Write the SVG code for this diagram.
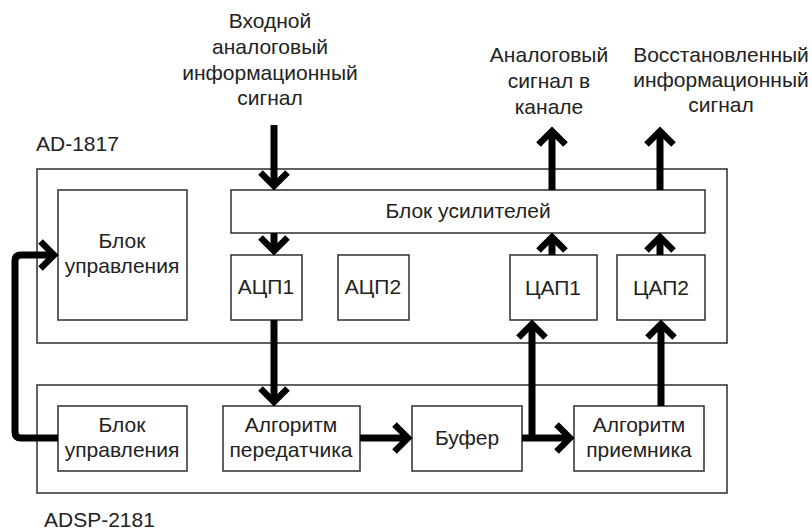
<svg xmlns="http://www.w3.org/2000/svg" xmlns:xlink="http://www.w3.org/1999/xlink" width="812" height="532" viewBox="0 0 812 532">
<style>
.box{fill:#fff;stroke:#3a3a3a;stroke-width:1.6}
.frame{fill:none;stroke:#3a3a3a;stroke-width:1.6}
.t{font-family:"Liberation Sans",Arial,sans-serif;font-size:21px;fill:#222;text-anchor:middle}
.tl{font-family:"Liberation Sans",Arial,sans-serif;font-size:21px;fill:#222}
.sh{fill:none;stroke:#000;stroke-width:7}
.ch{fill:none;stroke:#000;stroke-width:6.5;stroke-linejoin:miter;stroke-miterlimit:4}
</style>
<defs>
<path id="chev" class="ch" d="M-13.5,-13.5 L0,0 L13.5,-13.5"/>
</defs>
<rect width="812" height="532" fill="#fff"/>

<g id="ad1817">
<rect class="frame" x="37" y="169" width="690" height="174"/>
<text class="tl" x="36" y="151">AD-1817</text>
</g>
<g id="adsp2181">
<rect class="frame" x="37" y="385" width="690" height="108"/>
<text class="tl" x="44" y="527">ADSP-2181</text>
</g>

<g id="input-label">
<text class="t" x="270" y="28">Входной</text>
<text class="t" x="270" y="54">аналоговый</text>
<text class="t" x="270" y="80">информационный</text>
<text class="t" x="270" y="105">сигнал</text>
</g>
<g id="out1-label">
<text class="t" x="549" y="62">Аналоговый</text>
<text class="t" x="549" y="88">сигнал в</text>
<text class="t" x="549" y="114">канале</text>
</g>
<g id="out2-label">
<text class="t" x="721" y="62">Восстановленный</text>
<text class="t" x="721" y="87">информационный</text>
<text class="t" x="721" y="112">сигнал</text>
</g>

<g id="ctrl1">
<rect class="box" x="58" y="190" width="129" height="130"/>
<text class="t" x="122" y="248">Блок</text>
<text class="t" x="122" y="273">управления</text>
</g>
<g id="amp">
<rect class="box" x="231" y="190" width="474" height="43"/>
<text class="t" x="468" y="218">Блок усилителей</text>
</g>
<g id="adc1">
<rect class="box" x="231" y="255" width="71" height="65"/>
<text class="t" x="266" y="294">АЦП1</text>
</g>
<g id="adc2">
<rect class="box" x="338" y="255" width="71" height="65"/>
<text class="t" x="373" y="294">АЦП2</text>
</g>
<g id="dac1">
<rect class="box" x="510" y="255" width="87" height="65"/>
<text class="t" x="553" y="295">ЦАП1</text>
</g>
<g id="dac2">
<rect class="box" x="617" y="255" width="88" height="65"/>
<text class="t" x="661" y="295">ЦАП2</text>
</g>

<g id="ctrl2">
<rect class="box" x="58" y="406" width="129" height="65"/>
<text class="t" x="122" y="432">Блок</text>
<text class="t" x="122" y="457">управления</text>
</g>
<g id="tx">
<rect class="box" x="223" y="406" width="137" height="65"/>
<text class="t" x="291" y="432">Алгоритм</text>
<text class="t" x="291" y="457">передатчика</text>
</g>
<g id="buf">
<rect class="box" x="412" y="406" width="110" height="65"/>
<text class="t" x="467" y="445">Буфер</text>
</g>
<g id="rx">
<rect class="box" x="574" y="406" width="130" height="65"/>
<text class="t" x="639" y="432">Алгоритм</text>
<text class="t" x="639" y="457">приемника</text>
</g>

<g id="connectors">
<path class="sh" d="M274,125 V184"/>
<use xlink:href="#chev" transform="translate(274,186)"/>
<path class="sh" d="M274,233 V250"/>
<use xlink:href="#chev" transform="translate(274,251)"/>
<path class="sh" d="M274,320 V400"/>
<use xlink:href="#chev" transform="translate(274,402)"/>
<path class="sh" d="M360,438 H406"/>
<use xlink:href="#chev" transform="translate(408,438) rotate(-90)"/>
<path class="sh" d="M522,438 H568"/>
<use xlink:href="#chev" transform="translate(570,438) rotate(-90)"/>
<path class="sh" d="M532,441 V326"/>
<use xlink:href="#chev" transform="translate(532,324) rotate(180)"/>
<path class="sh" d="M552,255 V240"/>
<use xlink:href="#chev" transform="translate(552,237) rotate(180)"/>
<path class="sh" d="M552,190 V134"/>
<use xlink:href="#chev" transform="translate(552,131) rotate(180)"/>
<path class="sh" d="M661,406 V326"/>
<use xlink:href="#chev" transform="translate(661,324) rotate(180)"/>
<path class="sh" d="M660,255 V240"/>
<use xlink:href="#chev" transform="translate(660,237) rotate(180)"/>
<path class="sh" d="M660,190 V134"/>
<use xlink:href="#chev" transform="translate(660,131) rotate(180)"/>
<path class="sh" d="M58,438 H21 Q15,438 15,432 V261 Q15,255 21,255 H52"/>
<use xlink:href="#chev" transform="translate(54,255) rotate(-90)"/>
</g>
</svg>
